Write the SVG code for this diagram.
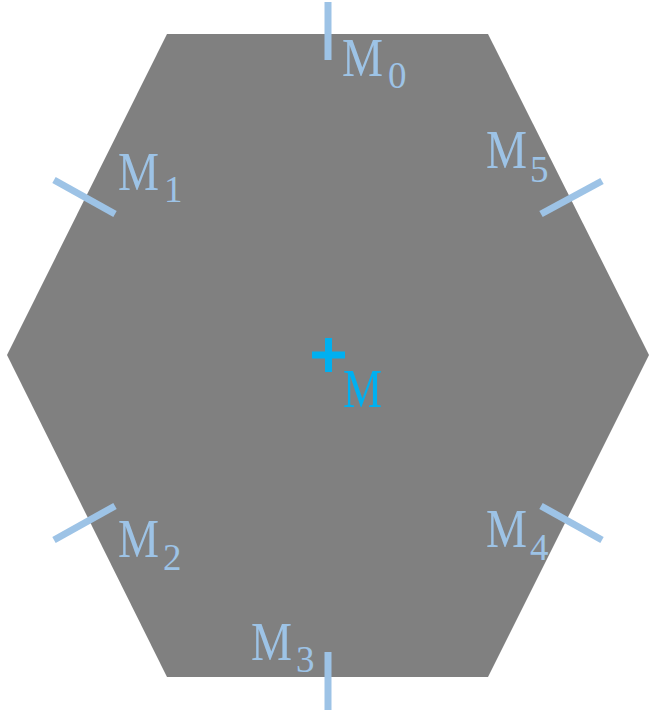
<svg xmlns="http://www.w3.org/2000/svg" width="656" height="712" viewBox="0 0 656 712">
<style>
.tick{stroke:#9DC3E6;stroke-width:7;fill:none}
.lbl{font-family:"Liberation Serif","DejaVu Serif",serif;fill:#9DC3E6}
.m{font-size:55px}
.sub{font-size:37px}
.c{fill:#00B0F0}
</style>
<rect width="656" height="712" fill="#ffffff"/>
<g id="hexagon">
<polygon points="167,34 488,34 649,355 488,677 167,677 7,355" fill="#808080"/>
</g>
<g id="center">
<path d="M312,355 H345 M328.5,338 V372" stroke="#00B0F0" stroke-width="7" fill="none"/>
<text class="lbl c m" x="343" y="407" textLength="39" lengthAdjust="spacingAndGlyphs">M</text>
</g>
<g id="connectors">
<line class="tick" x1="328" y1="2" x2="328" y2="60"/>
<line class="tick" x1="54" y1="180" x2="115" y2="214"/>
<line class="tick" x1="541" y1="214" x2="602" y2="181"/>
<line class="tick" x1="54" y1="540" x2="115" y2="506"/>
<line class="tick" x1="541" y1="506" x2="602" y2="540"/>
<line class="tick" x1="328" y1="652" x2="328" y2="710"/>
</g>
<g id="M0"><text class="lbl" x="342" y="76"><tspan class="m" textLength="41" lengthAdjust="spacingAndGlyphs">M</tspan><tspan class="sub" x="388" y="88">0</tspan></text></g>
<g id="M1"><text class="lbl" x="118" y="190"><tspan class="m" textLength="41" lengthAdjust="spacingAndGlyphs">M</tspan><tspan class="sub" x="164" y="202">1</tspan></text></g>
<g id="M5"><text class="lbl" x="486" y="168"><tspan class="m" textLength="41" lengthAdjust="spacingAndGlyphs">M</tspan><tspan class="sub" x="530" y="182">5</tspan></text></g>
<g id="M2"><text class="lbl" x="118" y="557"><tspan class="m" textLength="41" lengthAdjust="spacingAndGlyphs">M</tspan><tspan class="sub" x="163" y="570">2</tspan></text></g>
<g id="M4"><text class="lbl" x="486" y="547"><tspan class="m" textLength="41" lengthAdjust="spacingAndGlyphs">M</tspan><tspan class="sub" x="530" y="560">4</tspan></text></g>
<g id="M3"><text class="lbl" x="251" y="660"><tspan class="m" textLength="41" lengthAdjust="spacingAndGlyphs">M</tspan><tspan class="sub" x="296" y="672">3</tspan></text></g>
</svg>
